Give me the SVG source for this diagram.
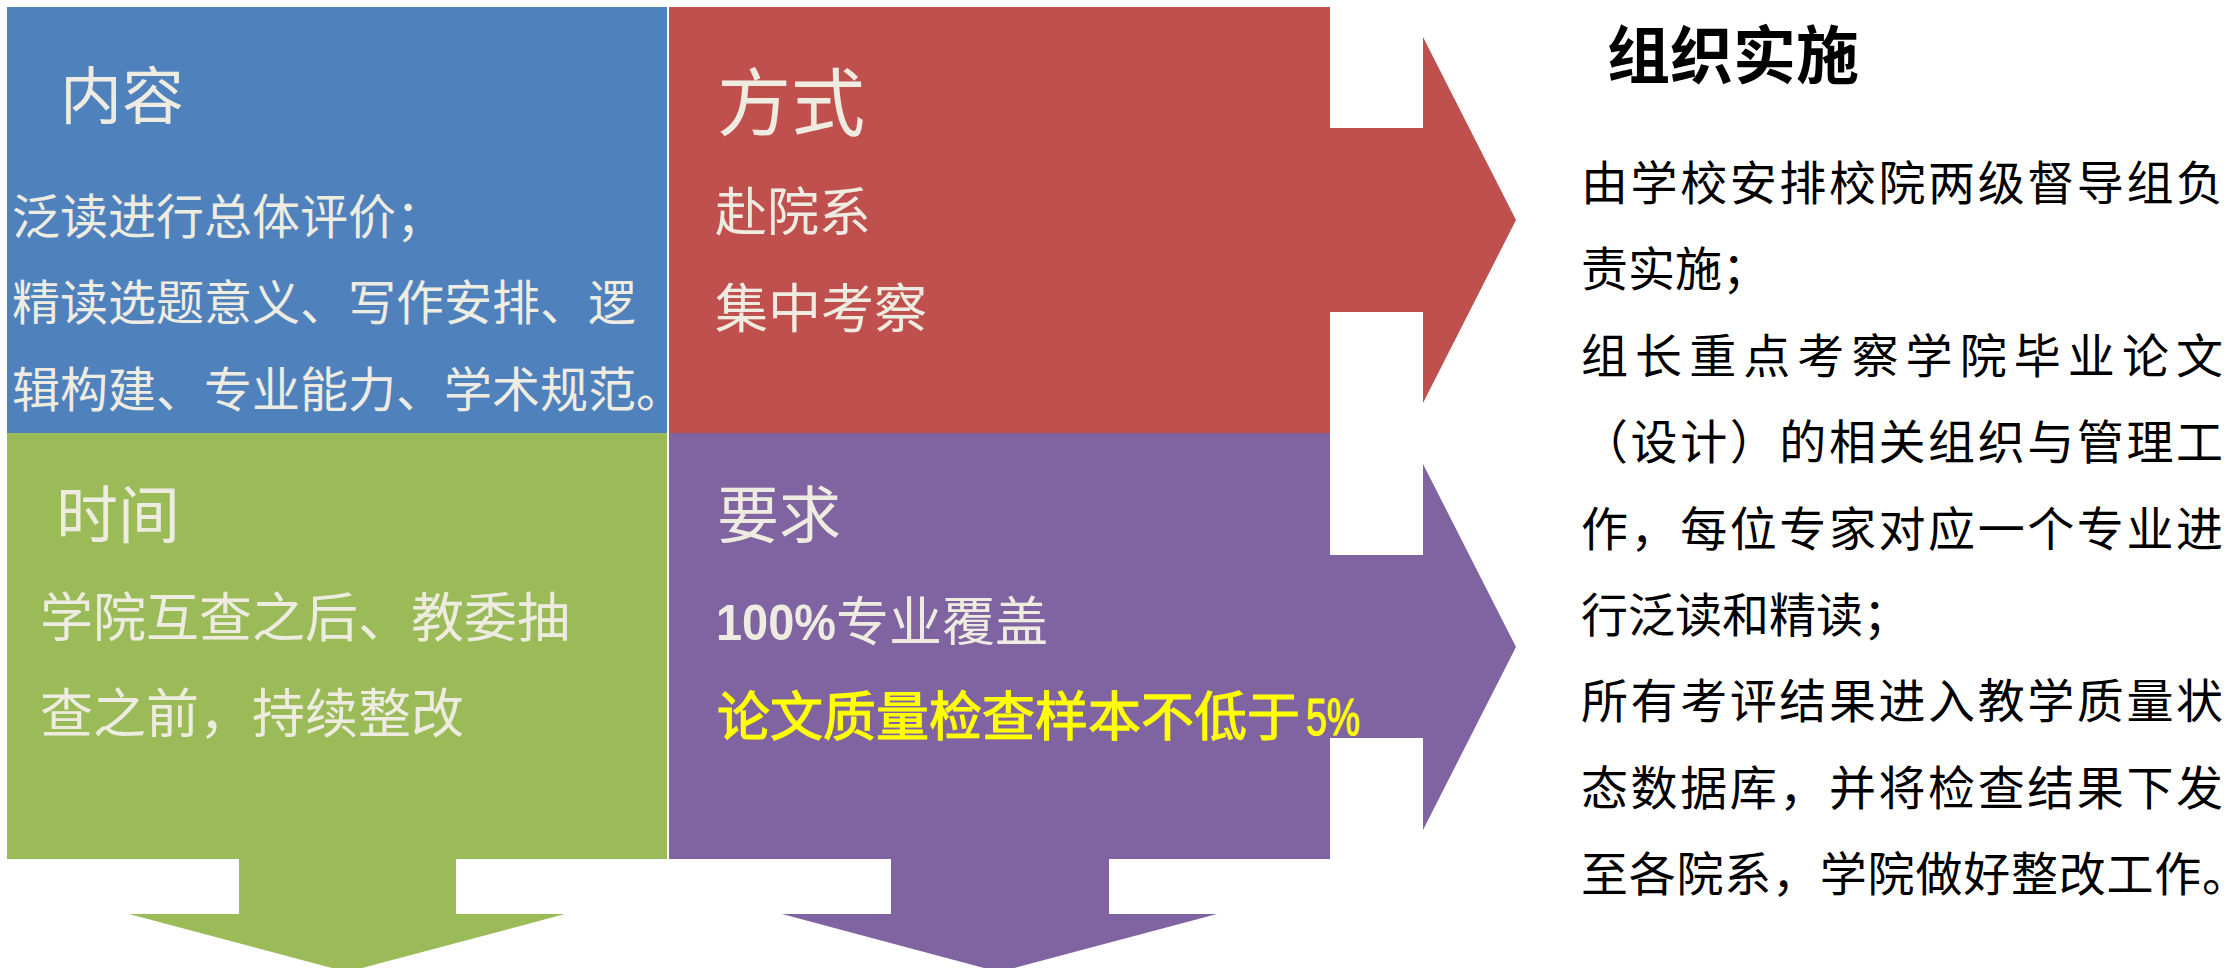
<svg xmlns="http://www.w3.org/2000/svg" width="2229" height="968" viewBox="0 0 2229 968">
<style>
.cjk{font-family:"Noto Sans CJK SC","Noto Sans CJK JP",sans-serif;}
.lat{font-family:"Liberation Sans","Noto Sans CJK SC",sans-serif;}
.lt{fill:#EEECE1;}
.head{font-size:62px;}
.body{font-size:53px;}
.yel{fill:#FFFF00;stroke:#FFFF00;stroke-width:1.2px;}
.rt{font-size:47px;fill:#000;}
</style>
<rect x="0" y="0" width="2229" height="968" fill="#FFFFFF"/>
<g id="connectors">
<polygon points="1320,128 1423,128 1423,37 1516,220 1423,403 1423,312 1320,312" fill="#C0504D"/>
<polygon points="1320,555 1423,555 1423,464 1516,647 1423,830 1423,738 1320,738" fill="#8064A2"/>
<polygon points="239,850 456,850 456,914 565,914 347,972 129,914 239,914" fill="#9BBB59"/>
<polygon points="891,850 1109,850 1109,914 1217,914 999,972 782,914 891,914" fill="#8064A2"/>
</g>
<g id="node-content">
<rect x="7" y="7" width="660" height="426" fill="#4F81BD"/>
<text class="cjk lt head" x="60" y="119">内容</text>
<text class="cjk lt" font-size="48" x="12" y="234">泛读进行总体评价；</text>
<text class="cjk lt" font-size="48" x="12" y="320">精读选题意义、写作安排、逻</text>
<text class="cjk lt" font-size="48" x="12" y="407">辑构建、专业能力、学术规范。</text>
</g>
<g id="node-method">
<rect x="669" y="7" width="661" height="426" fill="#C0504D"/>
<text class="cjk lt" font-size="74" x="717" y="130">方式</text>
<text class="cjk lt" font-size="52" x="715" y="231">赴院系</text>
<text class="cjk lt body" x="715" y="328">集中考察</text>
</g>
<g id="node-time">
<rect x="7" y="433" width="660" height="426" fill="#9BBB59"/>
<text class="cjk lt head" x="56" y="538">时间</text>
<text class="cjk lt body" x="40" y="637">学院互查之后、教委抽</text>
<text class="cjk lt body" x="40" y="733">查之前，持续整改</text>
</g>
<g id="node-requirement">
<rect x="669" y="433" width="661" height="426" fill="#8064A2"/>
<text class="cjk lt head" x="717" y="538">要求</text>
<text class="lat lt" font-size="50" font-weight="bold" x="716" y="640" textLength="120" lengthAdjust="spacingAndGlyphs">100%</text>
<text class="cjk lt body" x="836" y="641">专业覆盖</text>
<text class="cjk body yel" x="717" y="736">论文质量检查样本不低于</text>
<text class="lat yel" font-size="52" x="1306" y="735" textLength="54" lengthAdjust="spacingAndGlyphs">5%</text>
</g>
<g id="node-implementation">
<text class="cjk" font-size="63" font-weight="bold" fill="#000" x="1607" y="78">组织实施</text>
<text class="cjk rt" x="1581" y="200" textLength="642" lengthAdjust="spacing">由学校安排校院两级督导组负</text>
<text class="cjk rt" x="1581" y="286">责实施；</text>
<text class="cjk rt" x="1581" y="373" textLength="642" lengthAdjust="spacing">组长重点考察学院毕业论文</text>
<text class="cjk rt" x="1581" y="459" textLength="642" lengthAdjust="spacing">（设计）的相关组织与管理工</text>
<text class="cjk rt" x="1581" y="546" textLength="642" lengthAdjust="spacing">作，每位专家对应一个专业进</text>
<text class="cjk rt" x="1581" y="632">行泛读和精读；</text>
<text class="cjk rt" x="1581" y="718" textLength="642" lengthAdjust="spacing">所有考评结果进入教学质量状</text>
<text class="cjk rt" x="1581" y="805" textLength="642" lengthAdjust="spacing">态数据库，并将检查结果下发</text>
<text class="cjk rt" x="1581" y="891" textLength="668" lengthAdjust="spacing">至各院系，学院做好整改工作。</text>
</g>
</svg>
